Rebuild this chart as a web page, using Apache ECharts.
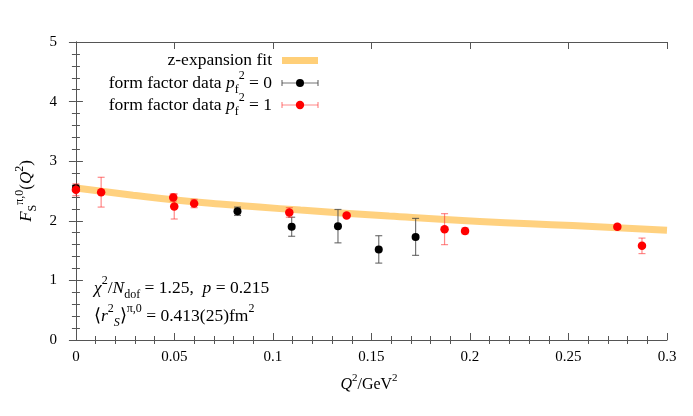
<!DOCTYPE html>
<html>
<head>
<meta charset="utf-8">
<script src="https://cdn.jsdelivr.net/npm/echarts@6/dist/echarts.min.js"></script>
<style>
  html, body { margin: 0; padding: 0; background: #fff; }
  #main { width: 693px; height: 416px; }
</style>
</head>
<body>
<div id="main"></div>
<script>
// z-expansion fit band
var fitQ2 = [0, 0.029, 0.053, 0.073, 0.093, 0.114, 0.159, 0.205, 0.252, 0.3];
var fitF = [2.55, 2.43, 2.34, 2.28, 2.23, 2.18, 2.08, 1.99, 1.92, 1.84];

// form factor data p_f^2 = 0
var pf0Q2 = [0.0, 0.082, 0.1095, 0.133, 0.1537, 0.1724];
var pf0F = [2.55, 2.16, 1.90, 1.91, 1.52, 1.73];
var pf0Err = [0.05, 0.07, 0.16, 0.28, 0.23, 0.31];

// form factor data p_f^2 = 1
var pf1Q2 = [0.0, 0.0128, 0.0494, 0.0499, 0.060, 0.1083, 0.1374, 0.1871, 0.1975, 0.2748, 0.2873];
var pf1F = [2.52, 2.48, 2.39, 2.24, 2.29, 2.14, 2.09, 1.86, 1.83, 1.90, 1.58];
var pf1Err = [0.10, 0.25, 0.06, 0.21, 0.07, 0.08, 0.03, 0.26, 0.05, 0.04, 0.13];

// tick labels
var xTicks = [0, 0.05, 0.1, 0.15, 0.2, 0.25, 0.3];
var xTickLabels = ['0', '0.05', '0.1', '0.15', '0.2', '0.25', '0.3'];
var xMinorTicks = [];
for (var i = 1; i < 30; i++) {
  if (i % 5 !== 0) xMinorTicks.push(i / 100);
}

var FONT = 'Liberation Serif';
var AXC = '#555';
var TXT = 17.5;

function zip(a, b, c) {
  var out = [];
  for (var i = 0; i < a.length; i++) out.push(c ? [a[i], b[i], c[i]] : [a[i], b[i]]);
  return out;
}

// rich text styles for the math bits
function richStyles(size) {
  var s = Math.round(size * 0.7);
  return {
    n: { fontFamily: FONT, fontSize: size, color: '#000', lineHeight: size + 8 },
    i: { fontFamily: FONT, fontSize: size, fontStyle: 'italic', color: '#000', lineHeight: size + 8 },
    sup: { fontFamily: FONT, fontSize: s, color: '#000', verticalAlign: 'top', lineHeight: s + 2 },
    sub: { fontFamily: FONT, fontSize: s, color: '#000', verticalAlign: 'bottom', lineHeight: s + 2 },
    subi: { fontFamily: FONT, fontSize: s, fontStyle: 'italic', color: '#000', verticalAlign: 'bottom', lineHeight: s + 2 }
  };
}

function errorBars(color) {
  return function (params, api) {
    var x = api.value(0), y = api.value(1), e = api.value(2);
    var hi = api.coord([x, y + e]);
    var lo = api.coord([x, y - e]);
    var w = 3.5;
    var st = { stroke: color, lineWidth: 1.2 };
    return {
      type: 'group',
      children: [
        { type: 'line', shape: { x1: hi[0], y1: hi[1], x2: lo[0], y2: lo[1] }, style: st },
        { type: 'line', shape: { x1: hi[0] - w, y1: hi[1], x2: hi[0] + w, y2: hi[1] }, style: st },
        { type: 'line', shape: { x1: lo[0] - w, y1: lo[1], x2: lo[0] + w, y2: lo[1] }, style: st }
      ]
    };
  };
}

var chart = echarts.init(document.getElementById('main'));

var xMajor = function (pos, labels) {
  return {
    type: 'value', position: pos, min: -0.0025, max: 0.3,
    axisLine: { show: true, onZero: false, lineStyle: { color: AXC, width: 1 } },
    axisTick: { show: true, inside: true, length: 7, customValues: xTicks, lineStyle: { color: AXC } },
    axisLabel: labels ? {
      show: true, customValues: xTicks, margin: 10,
      fontFamily: FONT, fontSize: 15, color: '#000',
      formatter: function (v) { return xTickLabels[xTicks.indexOf(Math.round(v * 100) / 100)] || ''; }
    } : { show: false },
    splitLine: { show: false }
  };
};
var xMinor = function (pos) {
  return {
    type: 'value', position: pos, min: -0.0025, max: 0.3,
    axisLine: { show: false },
    axisTick: { show: true, inside: true, length: 4, customValues: xMinorTicks, lineStyle: { color: AXC } },
    axisLabel: { show: false },
    splitLine: { show: false }
  };
};
var yAx = function (pos, labels) {
  var ax = {
    type: 'value', position: pos, min: 0, max: 5, interval: 1,
    axisLine: { show: true, lineStyle: { color: AXC, width: 1 } },
    axisTick: { show: true, inside: true, length: 7, lineStyle: { color: AXC } },
    minorTick: { show: true, splitNumber: 5, length: 4, lineStyle: { color: AXC } },
    axisLabel: labels ? { show: true, margin: 14, fontFamily: FONT, fontSize: 15, color: '#000' } : { show: false },
    splitLine: { show: false }
  };
  if (labels) {
    ax.name = '{i|F}{sub|S}{sup|π,0}{n|(}{i|Q}{sup|2}{n|)}';
    ax.nameLocation = 'middle';
    ax.nameGap = 31;
    ax.nameRotate = 90;
    ax.nameTextStyle = { rich: richStyles(17) };
  }
  return ax;
};

var bottomX = xMajor('bottom', true);
bottomX.name = '{i|Q}{sup|2}{n|/GeV}{sup|2}';
bottomX.nameLocation = 'middle';
bottomX.nameGap = 33;
bottomX.nameTextStyle = { rich: richStyles(16) };

function legendBar(y, color) {
  var st = { stroke: color, lineWidth: 1.2 };
  return [
    { type: 'line', shape: { x1: 282, y1: y, x2: 318, y2: y }, style: st },
    { type: 'line', shape: { x1: 282, y1: y - 3, x2: 282, y2: y + 3 }, style: st },
    { type: 'line', shape: { x1: 318, y1: y - 3, x2: 318, y2: y + 3 }, style: st }
  ];
}

var textFont = TXT + 'px "Liberation Serif"';

var option = {
  animation: false,
  backgroundColor: '#fff',
  grid: { left: 71, right: 26, top: 42, bottom: 76 },
  xAxis: [bottomX, xMinor('bottom'), xMajor('top', false), xMinor('top')],
  yAxis: [yAx('left', true), yAx('right', false)],
  series: [
    {
      name: 'z-expansion fit', type: 'line', smooth: true, symbol: 'none',
      data: zip(fitQ2, fitF),
      lineStyle: { color: '#ffcf78', width: 7, opacity: 0.95 },
      z: 1
    },
    {
      type: 'custom', renderItem: errorBars('rgba(70,70,70,0.75)'),
      data: zip(pf0Q2, pf0F, pf0Err), encode: { x: 0, y: 1 }, z: 2
    },
    {
      name: 'pf0', type: 'scatter', symbol: 'circle', symbolSize: 8,
      data: zip(pf0Q2, pf0F), itemStyle: { color: '#000', opacity: 1 }, z: 3
    },
    {
      type: 'custom', renderItem: errorBars('rgba(255,40,40,0.55)'),
      data: zip(pf1Q2, pf1F, pf1Err), encode: { x: 0, y: 1 }, z: 4
    },
    {
      name: 'pf1', type: 'scatter', symbol: 'circle', symbolSize: 8.5,
      data: zip(pf1Q2, pf1F), itemStyle: { color: '#ff0000', opacity: 1 }, z: 5
    }
  ],
  graphic: [
    // legend
    { type: 'text', x: 272, y: 60, style: { text: 'z-expansion fit', font: textFont, fill: '#000', align: 'right', verticalAlign: 'middle' } },
    { type: 'rect', shape: { x: 282, y: 57, width: 36, height: 7 }, style: { fill: '#ffcf78' } },
    { type: 'text', x: 272, y: 83, style: { text: 'form factor data {i|p}{sub|f}{sup|2}{n| = 0}', rich: richStyles(TXT), font: textFont, fill: '#000', align: 'right', verticalAlign: 'middle' } }
  ].concat(legendBar(83, 'rgba(70,70,70,0.75)'), [
    { type: 'circle', shape: { cx: 300, cy: 83, r: 4 }, style: { fill: '#000' } },
    { type: 'text', x: 272, y: 105, style: { text: 'form factor data {i|p}{sub|f}{sup|2}{n| = 1}', rich: richStyles(TXT), font: textFont, fill: '#000', align: 'right', verticalAlign: 'middle' } }
  ], legendBar(105, 'rgba(255,40,40,0.55)'), [
    { type: 'circle', shape: { cx: 300, cy: 105, r: 4.2 }, style: { fill: '#ff0000' } },
    // fit annotations
    { type: 'text', x: 94, y: 288, style: { text: '{i|χ}{sup|2}{n|/}{i|N}{sub|dof}{n| = 1.25,  }{i|p}{n| = 0.215}', rich: richStyles(TXT), font: textFont, fill: '#000', align: 'left', verticalAlign: 'middle' } },
    { type: 'text', x: 94, y: 316, style: { text: '{n|⟨}{i|r}{sup|2}{subi|S}{n|⟩}{sup|π,0}{n| = 0.413(25)fm}{sup|2}', rich: richStyles(TXT), font: textFont, fill: '#000', align: 'left', verticalAlign: 'middle' } }
  ])
};

chart.setOption(option);
</script>
</body>
</html>
